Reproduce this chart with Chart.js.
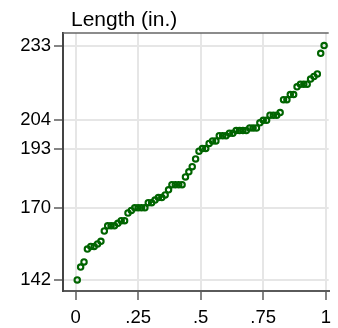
<!DOCTYPE html>
<html>
<head>
<meta charset="utf-8">
<script src="https://cdn.jsdelivr.net/npm/chart.js@4"></script>
<style>
  html, body { margin: 0; padding: 0; background: #fff; }
  #wrap { width: 338px; height: 328px; }
</style>
</head>
<body>
<div id="wrap"><canvas id="grafico" width="338" height="328"></canvas></div>
<script>
// comprimentos dos 74 carros, ja ordenados
var comprimentos = [142, 147, 149, 154, 155, 155, 156, 157, 161, 163, 163, 163, 164, 165, 165,
    168, 169, 170, 170, 170, 170, 172, 172, 173, 174, 174, 175, 177, 179, 179, 179, 179,
    182, 184, 186, 189, 192, 193, 193, 195, 196, 196, 198, 198, 198, 199, 199,
    200, 200, 200, 200, 201, 201, 201, 203, 204, 204, 206, 206, 206, 207,
    212, 212, 214, 214, 217, 218, 218, 218, 220, 221, 222, 230, 233];

// ticks: minimo, quartis, mediana e maximo
var ticksY = [142, 170, 193, 204, 233];
var ticksX = [0, 0.25, 0.5, 0.75, 1];
var rotulosX = ['0', '.25', '.5', '.75', '1'];
var titulo = 'Length (in.)';

// fracao dos dados: (i - 0.5) / N
var pontos = comprimentos.map(function (v, i) {
    return { x: (i + 0.5) / comprimentos.length, y: v };
});

var fonte = '"Liberation Sans", Arial, sans-serif';

// titulo no canto e linha de cima da moldura
var moldura = {
    id: 'moldura',
    afterDraw: function (chart) {
        var ctx = chart.ctx;
        var area = chart.chartArea;
        ctx.save();
        ctx.strokeStyle = '#666';
        ctx.lineWidth = 1.5;
        ctx.beginPath();
        ctx.moveTo(area.left, area.top);
        ctx.lineTo(area.right, area.top);
        ctx.stroke();
        ctx.fillStyle = '#000';
        ctx.font = '21px ' + fonte;
        ctx.textBaseline = 'alphabetic';
        ctx.fillText(titulo, 71, 26);
        ctx.restore();
    }
};

var ctx = document.getElementById('grafico').getContext('2d');
var grafico = new Chart(ctx, {
    type: 'scatter',
    data: {
        datasets: [{
            data: pontos,
            pointStyle: 'circle',
            pointRadius: 2.7,
            pointBorderWidth: 2.1,
            borderColor: '#006400',
            backgroundColor: 'rgba(0,0,0,0)'
        }]
    },
    options: {
        responsive: false,
        animation: false,
        layout: { padding: { top: 33, right: 0, left: 0, bottom: 0 } },
        plugins: {
            legend: { display: false },
            tooltip: { enabled: false }
        },
        scales: {
            x: {
                type: 'linear',
                min: -0.0502,
                max: 1.0116,
                afterFit: function (scale) { scale.height = 37; },
                afterBuildTicks: function (scale) {
                    scale.ticks = ticksX.map(function (v) { return { value: v }; });
                },
                ticks: {
                    autoSkip: false,
                    maxRotation: 0,
                    padding: 7,
                    color: '#000',
                    font: { family: fonte, size: 18.5 },
                    callback: function (v) { return rotulosX[ticksX.indexOf(v)]; }
                },
                grid: {
                    color: '#e6e6e6',
                    lineWidth: 2,
                    tickColor: '#333',
                    tickWidth: 1.2,
                    tickLength: 9
                },
                border: { display: true, color: '#5a5a5a', width: 2 }
            },
            y: {
                type: 'linear',
                min: 137.7,
                max: 237.9,
                afterFit: function (scale) { scale.width = 63; },
                afterBuildTicks: function (scale) {
                    scale.ticks = ticksY.map(function (v) { return { value: v }; });
                },
                ticks: {
                    autoSkip: false,
                    padding: 3,
                    color: '#000',
                    font: { family: fonte, size: 18.5 },
                    callback: function (v) { return String(v); }
                },
                grid: {
                    color: '#e6e6e6',
                    lineWidth: 2,
                    tickColor: '#333',
                    tickWidth: 1.2,
                    tickLength: 9
                },
                border: { display: true, color: '#444', width: 2 }
            }
        }
    },
    plugins: [moldura]
});
</script>
</body>
</html>
